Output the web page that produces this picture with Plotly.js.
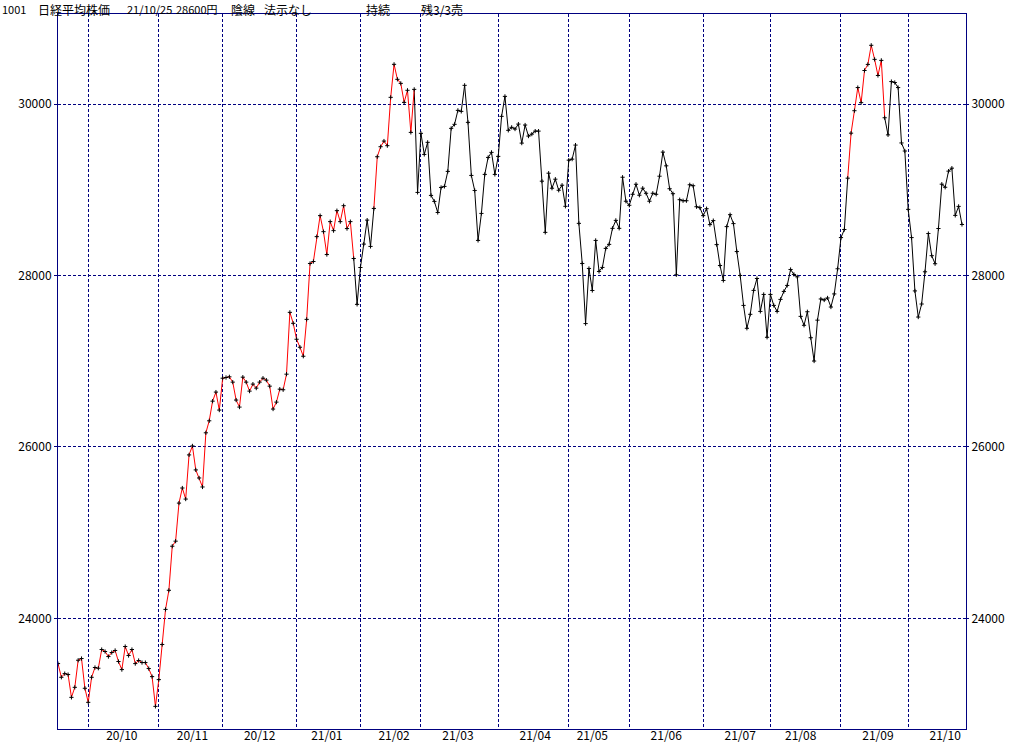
<!DOCTYPE html>
<html>
<head>
<meta charset="utf-8">
<script src="https://cdn.plot.ly/plotly-3.0.1.min.js"></script>
<style>html,body{margin:0;padding:0;background:#fff;}#chart{width:1024px;height:745px;}</style>
</head>
<body>
<div id="chart"></div>
<script>
// Daily closes (trading-day sequence, 20/09/16 .. 21/10/25)
const closes = [
  23473,23313,23356,23345,23079,23196,23512,23532,23185,
  23021,23313,23427,23419,23637,23614,23555,23602,23626,23497,23403,23672,23567,23637,23473,23509,23485,23485,23415,23321,22974,
  23286,23696,24105,24328,24842,24901,25345,25521,25392,25907,26012,25732,25638,25533,26165,26305,26534,26640,26430,
  26802,26810,26818,26756,26547,26465,26814,26756,26651,26733,26686,26756,26802,26779,26709,26442,26523,26674,26667,26849,27570,27442,
  27256,27163,27058,27488,28140,28163,28453,28698,28511,28244,28628,28523,28756,28628,28814,28547,28628,28198,27663,
  28093,28366,28646,28339,28782,29385,29502,29568,29514,30078,30463,30288,30241,30019,30160,29669,30171,28969,
  29658,29412,29553,28934,28864,28735,29027,29039,29214,29716,29763,29926,29914,30218,29786,29167,28992,28409,28724,29179,29377,29436,29179,
  29389,29856,30089,29693,29728,29708,29766,29544,29755,29626,29649,29684,29684,29100,28503,29193,29018,29123,28994,29053,28807,
  29345,29357,29521,28608,28140,27439,28082,27825,28409,28047,28094,28316,28363,28550,28643,28550,29146,28866,
  28819,28947,29064,28936,29018,28959,28866,28959,28947,29158,29439,29279,29012,28954,28008,28884,28872,28872,29058,29047,28802,28791,
  28698,28779,28593,28640,28360,28116,27942,28570,28709,28605,28279,28000,27651,27384,27547,27826,27965,27581,27779,27279,
  27779,27651,27581,27721,27814,27884,28070,28012,27984,27523,27419,27577,27274,27002,27479,27726,27714,27738,27632,27785,28078,
  28442,28536,29135,29660,29922,30192,30016,30391,30462,30685,30521,30333,30509,29840,29640,30262,30251,30192,29546,29452,
  28771,28442,27820,27515,27667,28043,28489,28231,28137,28548,29065,29029,29217,29252,28701,28806,28595
];
// first trading day of each month (index into closes) -> vertical grid
const monthStarts = [9,30,49,71,90,108,131,152,170,192,212,233,253];
// month labels and the trading-day index they sit under
const monthLabels = ['20/10','20/11','20/12','21/01','21/02','21/03','21/04','21/05','21/06','21/07','21/08','21/09','21/10'];
const monthLabelAt = [19,40,60,80,100,119,142,159,181,203,221,244,264];
// holding periods drawn in red (inclusive point-index ranges)
const holdSpans = [[0,88],[94,106],[235,246]];
const priceTicks = [24000,26000,28000,30000];
const headerParts = ['1001','日経平均株価','21/10/25','28600円','陰線','法示なし','持続','残3/3売'];

const n = closes.length;
const idx = closes.map((_, i) => i);
const segRed = k => holdSpans.some(([a, b]) => k >= a && k + 1 <= b);
const redY = closes.map((v, i) => ((i > 0 && segRed(i - 1)) || (i < n - 1 && segRed(i))) ? v : null);
const blackY = closes.map((v, i) => ((i > 0 && !segRed(i - 1)) || (i < n - 1 && !segRed(i))) ? v : null);

const NAVY = '#000080';
const FONT = '"Noto Sans CJK JP", "Liberation Sans", sans-serif';
const W = 1024, H = 745, ML = 58, MR = 58, MT = 14, MB = 16;
const plotW = W - ML - MR, plotH = H - MT - MB;
const yRange = [22710, 31050];

const traces = [
  {x: idx, y: blackY, type: 'scatter', mode: 'lines', line: {color: '#000000', width: 1}, connectgaps: false, hoverinfo: 'skip'},
  {x: idx, y: redY, type: 'scatter', mode: 'lines', line: {color: '#ff0000', width: 1}, connectgaps: false, hoverinfo: 'skip'},
  {x: idx, y: closes, type: 'scatter', mode: 'markers', yaxis: 'y2',
   marker: {symbol: 'cross-thin', size: 3, color: '#000000', line: {width: 1, color: '#000000'}}}
];

// header layout: left pixel of each part and the font size used for it
const headerX = [1, 37, 126, 175, 230, 263, 365, 420];
const headerEnd = [30, 120, 174, 228, 260, 350, 410, 500];
const headerSize = [11, 12, 11, 11, 12, 12, 12, 12];
const annotations = headerParts.map((t, i) => ({
  text: t, xref: 'paper', yref: 'paper',
  x: (headerX[i] - ML) / plotW, y: 1 + MT / plotH,
  xanchor: 'left', yanchor: 'top', align: 'left',
  width: headerEnd[i] - headerX[i], borderpad: 0,
  showarrow: false,
  font: {family: FONT, size: headerSize[i], color: '#000'}
}));

const layout = {
  width: W, height: H,
  margin: {l: ML, r: MR, t: MT, b: MB, pad: 0},
  paper_bgcolor: '#ffffff', plot_bgcolor: '#ffffff',
  showlegend: false,
  xaxis: {
    range: [0, 270.2], tickmode: 'array', tickvals: monthLabelAt, ticktext: monthLabels,
    ticks: '', showgrid: false, zeroline: false, ticklabelstandoff: -4,
    showline: true, linecolor: NAVY, linewidth: 1, mirror: true,
    tickfont: {family: FONT, size: 12, color: '#000'}, automargin: false,
    minor: {tickmode: 'array', tickvals: monthStarts, showgrid: true, gridcolor: NAVY, griddash: '3px,2px', gridwidth: 1, ticks: ''}
  },
  yaxis: {
    range: yRange, tickmode: 'array', tickvals: priceTicks, tickformat: 'd',
    ticks: 'outside', ticklen: 3, tickcolor: NAVY, tickwidth: 1,
    showgrid: true, gridcolor: NAVY, griddash: '3px,2px', gridwidth: 1, zeroline: false,
    showline: true, linecolor: NAVY, linewidth: 1, mirror: true,
    tickfont: {family: FONT, size: 12, color: '#000'}, automargin: false
  },
  yaxis2: {
    range: yRange, overlaying: 'y', side: 'right', tickmode: 'array', tickvals: priceTicks, tickformat: 'd',
    ticks: 'outside', ticklen: 2, tickcolor: NAVY, tickwidth: 1,
    showgrid: false, zeroline: false, showline: false,
    tickfont: {family: FONT, size: 12, color: '#000'}, automargin: false
  },
  annotations: annotations
};

Plotly.newPlot('chart', traces, layout, {staticPlot: true, displayModeBar: false});
</script>
</body>
</html>
